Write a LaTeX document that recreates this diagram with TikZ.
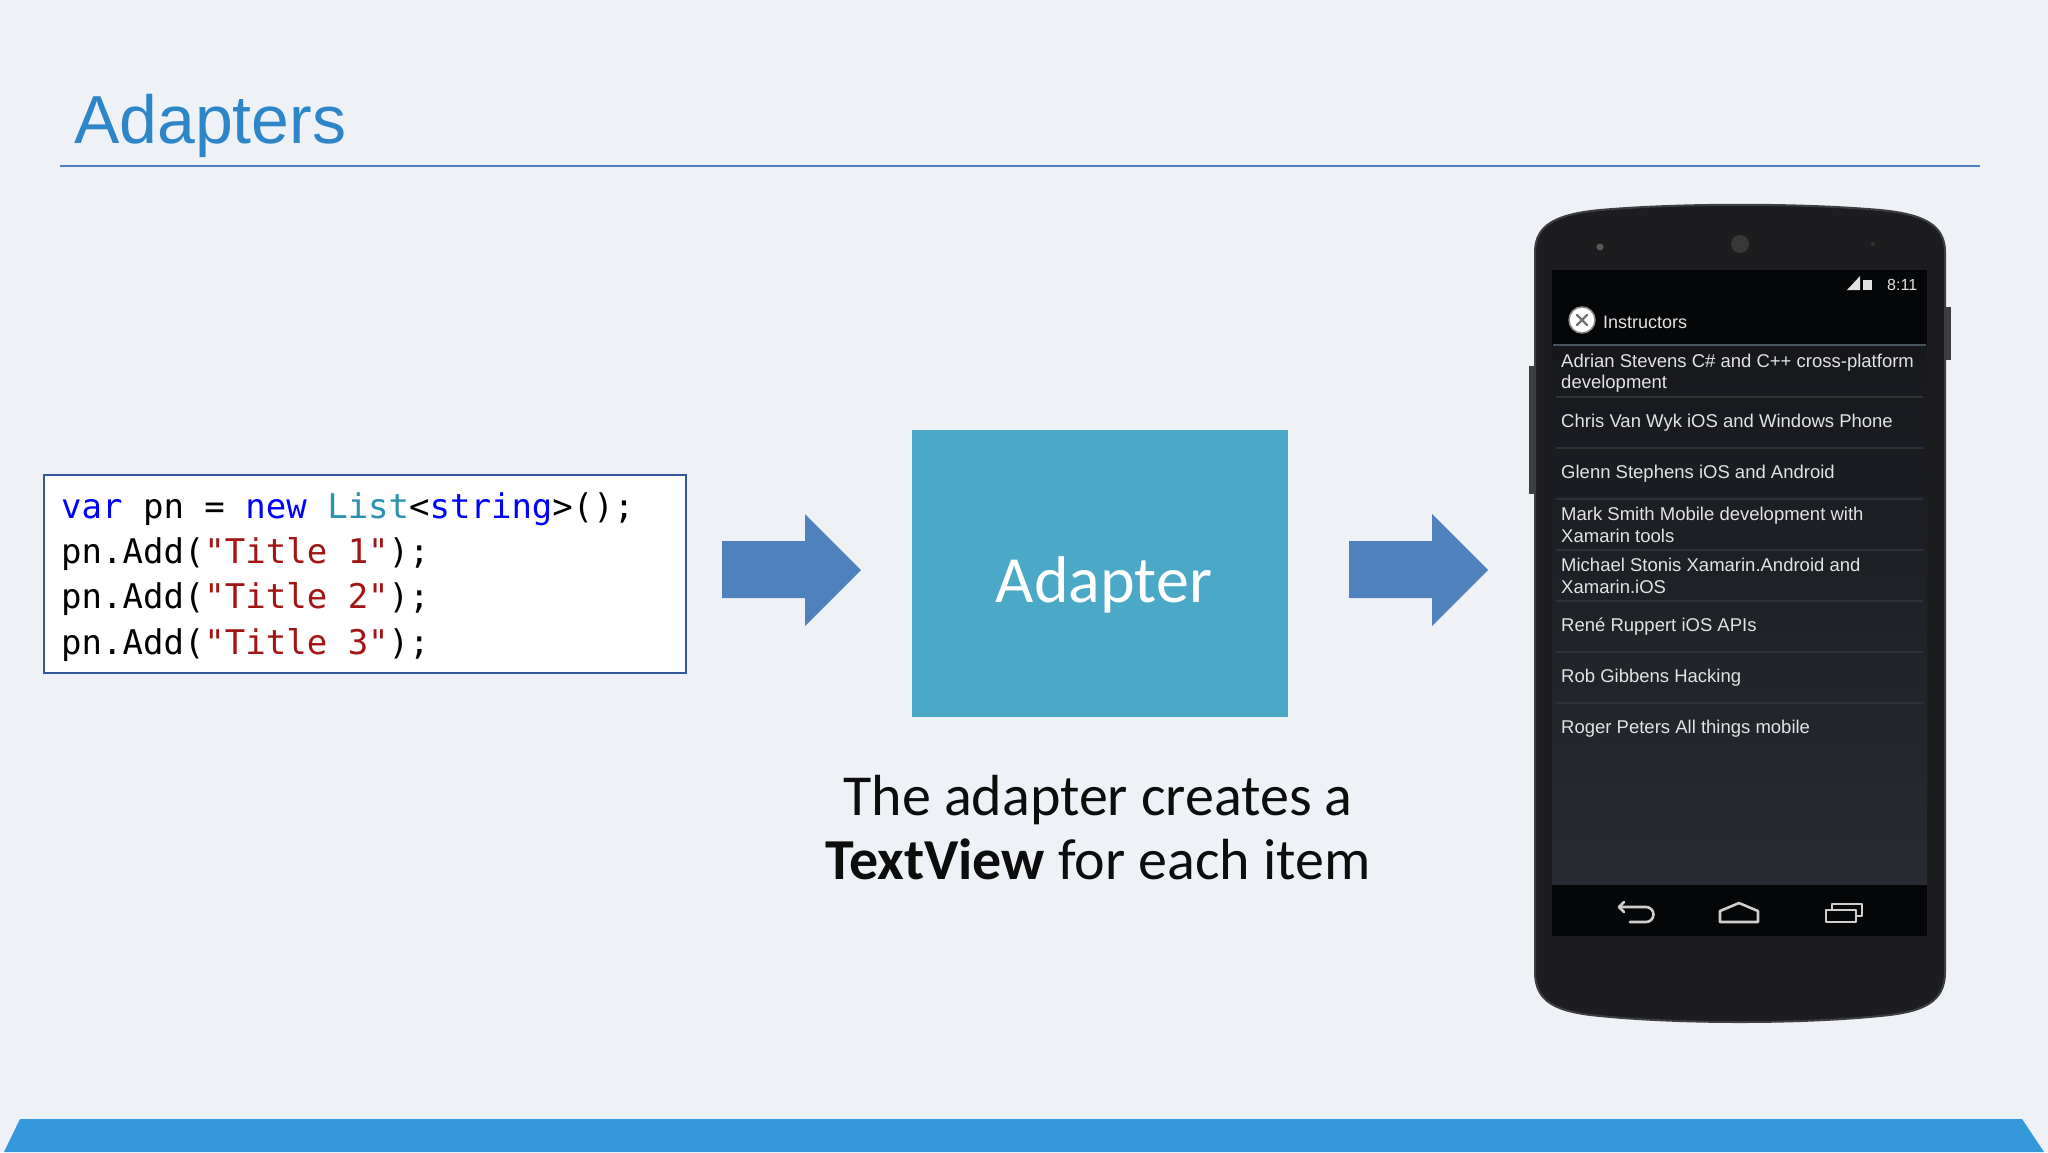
\documentclass[tikz,border=0pt]{standalone}
\usepackage{fontspec}
\setmainfont{Carlito}
\newfontfamily\arialf{Liberation Sans}
\newfontfamily\monof{DejaVu Sans Mono}
\definecolor{bg}{RGB}{238,242,246}
\definecolor{titleblue}{RGB}{46,134,200}
\definecolor{rule}{RGB}{79,125,190}
\definecolor{arrowblue}{RGB}{79,129,189}
\definecolor{adapterfill}{RGB}{75,168,198}
\definecolor{barblue}{RGB}{52,152,219}
\definecolor{codeborder}{RGB}{52,88,155}
\definecolor{kw}{RGB}{0,0,255}
\definecolor{typ}{RGB}{43,145,175}
\definecolor{str}{RGB}{163,21,21}
\definecolor{captxt}{RGB}{13,13,13}
\definecolor{phonebody}{RGB}{29,29,31}
\definecolor{phonerim}{RGB}{62,62,64}
\definecolor{barblack}{RGB}{5,6,8}
\definecolor{listtop}{RGB}{22,24,28}
\definecolor{listbot}{RGB}{40,44,50}
\definecolor{divider}{RGB}{46,49,55}
\definecolor{itemtxt}{RGB}{226,226,226}
\definecolor{navicon}{RGB}{205,205,205}
\tikzset{
  codeline/.style={anchor=base west, inner sep=0, font=\monof\fontsize{34}{45}\selectfont},
  item/.style={anchor=west, align=left, inner sep=0, text=itemtxt, font=\arialf\fontsize{18.5}{21.5}\selectfont},
  divline/.style={draw=divider, line width=2.5pt},
  blockarrow/.style={fill=arrowblue},
  navline/.style={draw=navicon, line width=2.6pt, line join=round, line cap=round},
}
\begin{document}
\begin{tikzpicture}[x=1pt,y=-1pt]
\fill[bg] (0,0) rectangle (2048,1152);
\useasboundingbox (0,0) rectangle (2048,1152);

% title
\node[anchor=base west, inner sep=0, text=titleblue, font=\arialf\fontsize{68}{80}\selectfont] (title) at (74,143) {Adapters};
\coordinate (ruleL) at (60,166);
\coordinate (ruleR) at (1980,166);
\draw[rule, line width=1.6pt] (ruleL) -- (ruleR);

% bottom bar
\fill[barblue] (20,1119) -- (2022,1119) -- (2044,1152) -- (4,1152) -- cycle;

% code box
\node[draw=codeborder, fill=white, line width=1.6pt, minimum width=642, minimum height=198, inner sep=0] (code) at (365,574) {};
\node[codeline] (c1) at (61,518) {{\color{kw}var} pn = {\color{kw}new} {\color{typ}List}<{\color{kw}string}>();};
\node[codeline] (c2) at (61,563) {pn.Add({\color{str}"Title 1"});};
\node[codeline] (c3) at (61,608) {pn.Add({\color{str}"Title 2"});};
\node[codeline] (c4) at (61,654) {pn.Add({\color{str}"Title 3"});};

% arrows
\fill[blockarrow] (722,541) -- (805,541) -- (805,514) -- (861,570) -- (805,626) -- (805,598) -- (722,598) -- cycle;
\fill[blockarrow] (1349,541) -- (1432,541) -- (1432,514) -- (1488,570) -- (1432,626) -- (1432,598) -- (1349,598) -- cycle;

% adapter
\node[fill=adapterfill, minimum width=376, minimum height=287, inner sep=0] (adapter) at (1100,573.5) {};
\node[anchor=base, inner sep=0, text=white, font=\fontsize{66}{78}\selectfont] (adaptertxt) at (1104,602) {Adapter};

% caption
\node[anchor=base, inner sep=0, text=captxt, font=\fontsize{58}{64}\selectfont] (cap1) at (1098,815) {The adapter creates a};
\node[anchor=base, inner sep=0, text=captxt, font=\fontsize{58}{64}\selectfont] (cap2) at (1098,879) {\textbf{TextView} for each item};

% phone side buttons
\fill[phonerim] (1944,307) rectangle (1951,360);
\fill[phonerim] (1529,366) rectangle (1536,494);
% phone body
\filldraw[fill=phonebody, draw=phonerim, line width=2pt]
  (1535,252) .. controls (1535,224) and (1558,214) .. (1600,210)
  .. controls (1680,203) and (1800,203) .. (1880,210)
  .. controls (1922,214) and (1945,224) .. (1945,252)
  -- (1945,972)
  .. controls (1945,1002) and (1924,1012) .. (1880,1016)
  .. controls (1800,1024) and (1680,1024) .. (1600,1016)
  .. controls (1556,1012) and (1535,1002) .. (1535,972) -- cycle;
\fill[black!78] (1740,244) circle (9);
\fill[black!65] (1600,247) circle (3.5);
\fill[black!80] (1873,244) circle (2);

% screen
\fill[barblack] (1552,270) rectangle (1927,346);
\shade[top color=listtop, bottom color=listbot] (1552,346) rectangle (1927,885);
\fill[barblack] (1552,885) rectangle (1927,936);
\draw[draw={rgb,255:red,72;green,84;blue,92}, line width=2pt] (1553,345) -- (1926,345);

% status bar
\fill[itemtxt] (1847,290) -- (1860,290) -- (1860,276) -- cycle;
\fill[itemtxt] (1863,280) rectangle (1872,290);
\node[anchor=base west, inner sep=0, text=itemtxt, font=\arialf\fontsize{16}{18}\selectfont] (clock) at (1887,290) {8:11};

% action bar
\node[circle, fill=white, draw=black!45, line width=1.5pt, minimum size=26, inner sep=0] (icon) at (1582,320) {};
\draw[black!55, line width=2.4pt, line cap=round] (1577,315) -- (1587,325) (1577,325) -- (1587,315);
\node[anchor=base west, inner sep=0, text=itemtxt, font=\arialf\fontsize{18}{21}\selectfont] (actiontitle) at (1603,328) {Instructors};

% list items
\node[item] (i1) at (1561,373) {Adrian Stevens C\# and C++ cross-platform\\development};
\draw[divline] (1556,397) -- (1923,397);
\node[item] (i2) at (1561,423) {Chris Van Wyk iOS and Windows Phone};
\draw[divline] (1556,448) -- (1923,448);
\node[item] (i3) at (1561,474) {Glenn Stephens iOS and Android};
\draw[divline] (1556,499) -- (1923,499);
\node[item] (i4) at (1561,525) {Mark Smith Mobile development with\\Xamarin tools};
\draw[divline] (1556,550) -- (1923,550);
\node[item] (i5) at (1561,576) {Michael Stonis Xamarin.Android and\\Xamarin.iOS};
\draw[divline] (1556,601) -- (1923,601);
\node[item] (i6) at (1561,627) {René Ruppert iOS APIs};
\draw[divline] (1556,652) -- (1923,652);
\node[item] (i7) at (1561,678) {Rob Gibbens Hacking};
\draw[divline] (1556,703) -- (1923,703);
\node[item] (i8) at (1561,729) {Roger Peters All things mobile};

% nav bar icons
\draw[navline] (1624,902) -- (1619,907) -- (1624,912);
\draw[navline] (1619,907) -- (1646,907) arc[start angle=-90, end angle=90, radius=7.5] -- (1630,922);
\draw[navline] (1720,922) -- (1720,911) -- (1739,903) -- (1758,911) -- (1758,922) -- cycle;
\draw[navline] (1826,910) rectangle (1856,922);
\draw[navline] (1832,910) -- (1832,904) -- (1862,904) -- (1862,916) -- (1856,916);
\end{tikzpicture}
\end{document}
